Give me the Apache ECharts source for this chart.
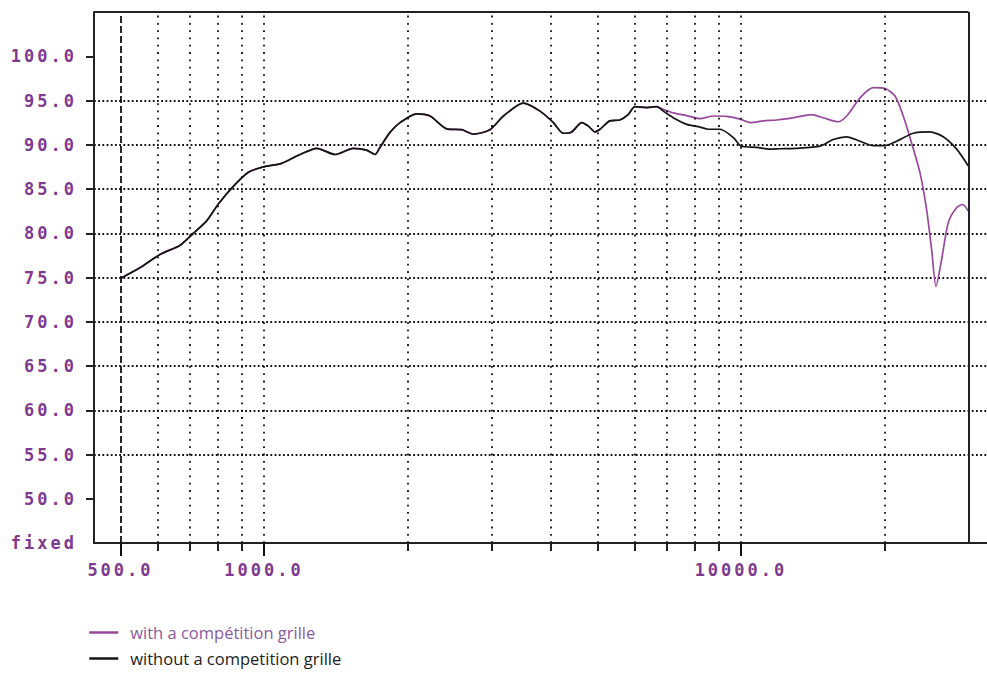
<!DOCTYPE html>
<html>
<head>
<meta charset="utf-8">
<script src="https://cdn.jsdelivr.net/npm/echarts@6/dist/echarts.min.js"></script>
<style>
html,body{margin:0;padding:0;background:#fff;}
#c{width:987px;height:675px;}
#c text[fill="#7e3a8f"], #c text[fill="rgb(126,58,143)"] { letter-spacing: 3px; }
</style>
</head>
<body>
<div id="c"></div>
<script>
// ---- data (frequency in Hz, level in dB) ----
const blackFreq = [500, 549, 605, 667, 711, 758, 802, 862, 927, 997, 1089, 1190, 1290, 1409, 1539, 1641, 1709, 1750, 1837, 1928, 2090, 2229, 2415, 2597, 2747, 2977, 3177, 3497, 3790, 4043, 4242, 4416, 4636, 4787, 4943, 5063, 5309, 5572, 5800, 5994, 6343, 6655, 6873, 7213, 7696, 8204, 8543, 9040, 9642, 10000, 10784, 11502, 12072, 13000, 14650, 15610, 16660, 17770, 18940, 20050, 21200, 22980, 24890, 26550, 28330, 29970];
const blackDb = [74.9, 76.1, 77.6, 78.65, 80.0, 81.4, 83.3, 85.3, 86.9, 87.5, 87.9, 88.9, 89.6, 88.9, 89.6, 89.4, 88.9, 89.7, 91.4, 92.5, 93.5, 93.25, 91.8, 91.7, 91.2, 91.7, 93.25, 94.7, 93.8, 92.5, 91.3, 91.45, 92.5, 92.1, 91.45, 91.75, 92.7, 92.8, 93.4, 94.3, 94.2, 94.3, 93.8, 93.05, 92.3, 92.0, 91.75, 91.75, 90.8, 89.85, 89.7, 89.5, 89.55, 89.6, 89.85, 90.6, 90.9, 90.4, 89.9, 89.9, 90.4, 91.3, 91.45, 90.9, 89.5, 87.6];

const purpleFreq = [500, 549, 605, 667, 711, 758, 802, 862, 927, 997, 1089, 1190, 1290, 1409, 1539, 1641, 1709, 1750, 1837, 1928, 2090, 2229, 2415, 2597, 2747, 2977, 3177, 3497, 3790, 4043, 4242, 4416, 4636, 4787, 4943, 5063, 5309, 5572, 5800, 5994, 6343, 6655, 6873, 7213, 7696, 8204, 8745, 9330, 9955, 10446, 11144, 11893, 13000, 14060, 14880, 15996, 16660, 17770, 18940, 20050, 21040, 21890, 22790, 23730, 24500, 25100, 25640, 26340, 27210, 28330, 29160, 29970];
const purpleDb = [74.9, 76.1, 77.6, 78.65, 80.0, 81.4, 83.3, 85.3, 86.9, 87.5, 87.9, 88.9, 89.6, 88.9, 89.6, 89.4, 88.9, 89.7, 91.4, 92.5, 93.5, 93.25, 91.8, 91.7, 91.2, 91.7, 93.25, 94.7, 93.8, 92.5, 91.3, 91.45, 92.5, 92.1, 91.45, 91.75, 92.7, 92.8, 93.4, 94.3, 94.2, 94.3, 94.0, 93.6, 93.3, 92.95, 93.25, 93.2, 92.9, 92.5, 92.7, 92.8, 93.1, 93.4, 93.05, 92.6, 93.25, 95.3, 96.45, 96.35, 95.5, 93.25, 90.2, 86.85, 82.7, 78.2, 74.0, 77.0, 81.2, 82.9, 83.25, 82.5];

const seriesNames = ['with a compétition grille', 'without a competition grille'];
const xTickFreqs = [500, 600, 700, 800, 900, 1000, 2000, 3000, 4000, 5000, 6000, 7000, 8000, 9000, 10000, 20000];
const xMajorFreqs = [500, 1000, 10000];
const xGridFreqs = [600, 700, 800, 900, 1000, 2000, 3000, 4000, 5000, 6000, 7000, 8000, 9000, 10000, 20000];
const xRefFreq = 500;
const yTickValues = [50, 55, 60, 65, 70, 75, 80, 85, 90, 95, 100];
const yLabelValues = [45, 50, 55, 60, 65, 70, 75, 80, 85, 90, 95, 100];
const yBottomLabel = 'fixed';
const xMin = 440, xMax = 32800, xFrameEnd = 30000;
const yMin = 45, yMax = 105;

// ---- chart ----
const purple = '#974a9c';
const labelPurple = '#7e3a8f';
const monoFont = {fontFamily: 'DejaVu Sans Mono', fontWeight: 'bold', fontSize: 17, color: labelPurple};

const zip = (f, v) => f.map((x, i) => [x, v[i]]);

const chart = echarts.init(document.getElementById('c'), null, {renderer: 'svg'});
const option = {
  backgroundColor: '#ffffff',
  animation: false,
  grid: {left: 94, right: 0, top: 12, bottom: 132, containLabel: false},
  legend: {
    orient: 'vertical', left: 88, top: 624, padding: 0, itemWidth: 29, itemHeight: 14, itemGap: 9,
    lineStyle: {width: 2.5},
    itemStyle: {opacity: 0},
    textStyle: {fontFamily: 'Open Sans', fontSize: 16.5, padding: [0, 0, 0, 7]},
    data: [
      {name: seriesNames[0], textStyle: {color: '#8a5b9c'}},
      {name: seriesNames[1], textStyle: {color: '#222222'}}
    ]
  },
  xAxis: [
    {
      type: 'log', logBase: 10, min: xMin, max: xMax, position: 'bottom',
      axisLine: {show: true, lineStyle: {color: '#222', width: 2}},
      axisTick: {show: true, customValues: xTickFreqs, length: 8, lineStyle: {color: '#222', width: 2}},
      axisLabel: {show: true, customValues: xMajorFreqs, margin: 18, ...monoFont,
        formatter: v => Number(v).toFixed(1)},
      splitLine: {show: false},
      minorTick: {show: false}
    },
    {
      type: 'log', logBase: 10, min: xMin, max: xMax, position: 'bottom',
      axisLine: {show: false},
      axisTick: {show: true, customValues: xMajorFreqs, length: 13, lineStyle: {color: '#111', width: 2}},
      axisLabel: {show: false},
      splitLine: {show: false}
    }
  ],
  yAxis: {
    type: 'value', min: yMin, max: yMax, interval: 5,
    axisLine: {show: true, lineStyle: {color: '#222', width: 2}},
    axisTick: {show: true, customValues: yTickValues, length: 8, lineStyle: {color: '#222', width: 2}},
    axisLabel: {show: true, customValues: yLabelValues, margin: 17, ...monoFont,
      formatter: v => (v === yMin ? yBottomLabel : Number(v).toFixed(1))},
    splitLine: {show: true, showMinLine: false, showMaxLine: false,
      lineStyle: {color: '#111', width: 1.8, type: [1.8, 2.4]}}
  },
  series: [
    {
      name: 'frame', type: 'line', data: [], z: 1, silent: true,
      markLine: {
        silent: true, symbol: ['none', 'none'], label: {show: false}, animation: false,
        data: [
          ...xGridFreqs.map(f => ({xAxis: f, lineStyle: {color: '#111', width: 1.8, type: [1.8, 5.5]}})),
          {xAxis: xRefFreq, lineStyle: {color: '#111', width: 1.8, type: [7, 3]}},
          {xAxis: xFrameEnd, lineStyle: {color: '#222', width: 2, type: 'solid'}},
          [{coord: [xMin, yMax], lineStyle: {color: '#222', width: 2, type: 'solid'}}, {coord: [xFrameEnd, yMax]}]
        ]
      }
    },
    {
      name: seriesNames[0], type: 'line', z: 3, showSymbol: false, symbol: 'none', smooth: 0.25,
      color: purple, lineStyle: {color: purple, width: 1.7},
      data: zip(purpleFreq, purpleDb)
    },
    {
      name: seriesNames[1], type: 'line', z: 4, showSymbol: false, symbol: 'none', smooth: 0.25,
      color: '#151515', lineStyle: {color: '#151515', width: 1.7},
      data: zip(blackFreq, blackDb)
    }
  ]
};
chart.setOption(option);
</script>
</body>
</html>
